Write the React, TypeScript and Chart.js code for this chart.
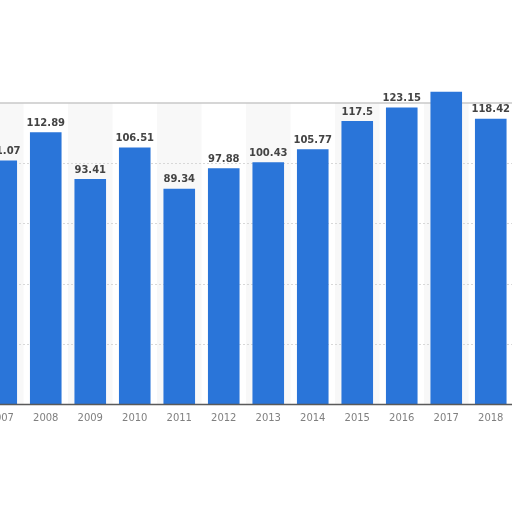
import React, { useEffect, useRef } from "react";
import { Chart, registerables } from "chart.js";

Chart.register(...registerables);

const years = ["2007", "2008", "2009", "2010", "2011", "2012", "2013", "2014", "2015", "2016", "2017", "2018"];
const values = [101.07, 112.89, 93.41, 106.51, 89.34, 97.88, 100.43, 105.77, 117.5, 123.15, 129.7, 118.42];
const yTicks = [0, 25, 50, 75, 100, 125];

const bandPlugin = {
  id: "bands",
  beforeDatasetsDraw(chart: any) {
    const { ctx, chartArea, scales } = chart;
    const x = scales.x;
    ctx.save();
    ctx.fillStyle = "#f8f8f8";
    years.forEach((_, i) => {
      if (i % 2 === 0) {
        const c = x.getPixelForValue(i);
        const w = x.width / years.length;
        ctx.fillRect(c - w / 2, chartArea.top, w, chartArea.bottom - chartArea.top);
      }
    });
    ctx.strokeStyle = "#d8d8d8";
    ctx.lineWidth = 1;
    ctx.setLineDash([2, 2]);
    const y = scales.y;
    yTicks.forEach((t) => {
      if (t > 0 && t < 125) {
        const py = Math.round(y.getPixelForValue(t)) + 0.5;
        ctx.beginPath();
        ctx.moveTo(chartArea.left, py);
        ctx.lineTo(chartArea.right, py);
        ctx.stroke();
      }
    });
    ctx.setLineDash([]);
    ctx.strokeStyle = "#c8c8c8";
    ctx.lineWidth = 1.5;
    ctx.beginPath();
    ctx.moveTo(chartArea.left, chartArea.top);
    ctx.lineTo(chartArea.right, chartArea.top);
    ctx.stroke();
    ctx.restore();
  },
};

const labelPlugin = {
  id: "valueLabels",
  afterDatasetsDraw(chart: any) {
    const { ctx, scales, chartArea } = chart;
    const meta = chart.getDatasetMeta(0);
    ctx.save();
    ctx.strokeStyle = "#5a5a5a";
    ctx.lineWidth = 1.5;
    ctx.beginPath();
    ctx.moveTo(chartArea.left, chartArea.bottom + 0.5);
    ctx.lineTo(chartArea.right, chartArea.bottom + 0.5);
    ctx.stroke();
    ctx.font = "bold 10px 'DejaVu Sans'";
    ctx.fillStyle = "#444444";
    ctx.textAlign = "center";
    ctx.textBaseline = "bottom";
    meta.data.forEach((bar: any, i: number) => {
      if (values[i] > scales.y.max) return;
      ctx.fillText(String(values[i]), bar.x, bar.y - 4);
    });
    ctx.restore();
  },
};

export default function App() {
  const ref = useRef<HTMLCanvasElement | null>(null);
  useEffect(() => {
    if (!ref.current) return;
    const chart = new Chart(ref.current, {
      type: "bar",
      data: {
        labels: years,
        datasets: [
          {
            data: values,
            backgroundColor: "#2a75d9",
            borderWidth: 0,
            barPercentage: 0.71,
            categoryPercentage: 1,
            clip: false as any,
          },
        ],
      },
      options: {
        responsive: false,
        animation: false,
        layout: { padding: { top: 103, left: 0, right: 0, bottom: 0 } },
        plugins: { legend: { display: false }, tooltip: { enabled: false } },
        scales: {
          x: {
            grid: { display: false, drawTicks: false },
            border: { display: false },
            ticks: {
              color: "#808080",
              font: { family: "DejaVu Sans", size: 10 },
              padding: 8,
              maxRotation: 0,
              autoSkip: false,
            },
            afterFit: (scale: any) => {
              scale.height = 108;
            },
          },
          y: {
            display: false,
            min: 0,
            max: 125,
            afterBuildTicks: (scale: any) => {
              scale.ticks = yTicks.map((v) => ({ value: v }));
            },
          },
        },
      },
      plugins: [bandPlugin, labelPlugin],
    });
    return () => chart.destroy();
  }, []);
  return (
    <div style={{ position: "fixed", left: 0, top: 0, width: 512, height: 512, overflow: "hidden", background: "#fff" }}>
      <canvas ref={ref} width={534} height={512} style={{ position: "absolute", left: -21, top: 0, width: 534, height: 512 }} />
    </div>
  );
}
